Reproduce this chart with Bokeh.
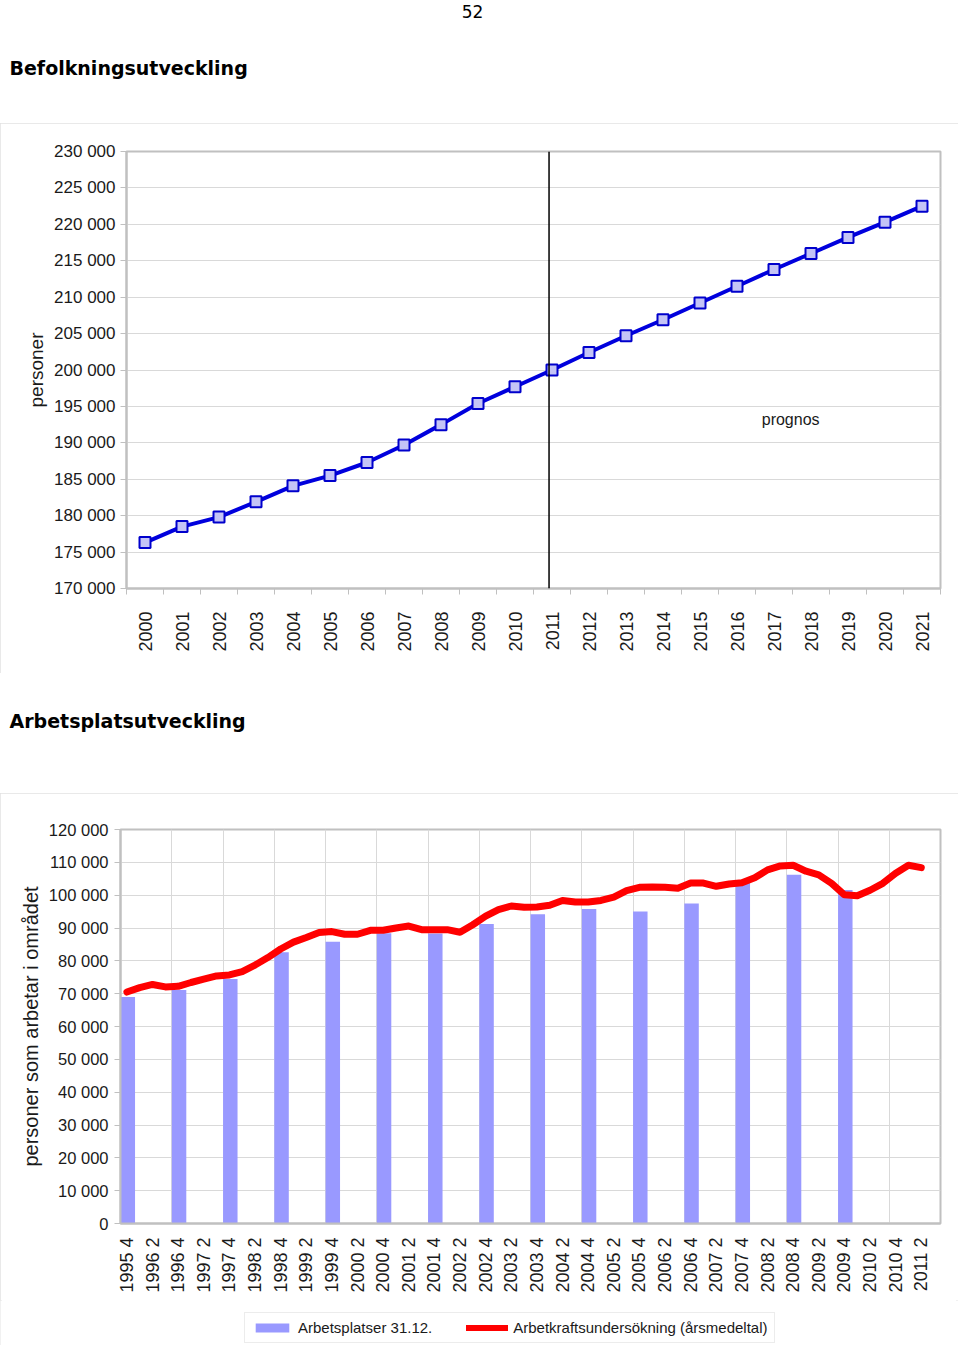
import math
from bokeh.plotting import figure
from bokeh.models import (FixedTicker, Span, Label, Legend, LegendItem, Range1d)
from bokeh.layouts import column
from bokeh.embed import file_html
from bokeh.resources import INLINE

# ---------------- data: Befolkningsutveckling ----------------
pop_years = ["2000", "2001", "2002", "2003", "2004", "2005", "2006", "2007",
             "2008", "2009", "2010", "2011", "2012", "2013", "2014", "2015",
             "2016", "2017", "2018", "2019", "2020", "2021"]
pop_values = [176300, 178500, 179800, 181900, 184100, 185500, 187300, 189700,
              192500, 195400, 197700, 200000, 202400, 204700, 206900, 209200,
              211500, 213800, 216000, 218200, 220300, 222500]
pop_ticks = [170000, 175000, 180000, 185000, 190000, 195000, 200000, 205000,
             210000, 215000, 220000, 225000, 230000]
forecast_year = "2011"

# ---------------- data: Arbetsplatsutveckling ----------------
quarters = ["1995 4",
            "1996 1", "1996 2", "1996 3", "1996 4",
            "1997 1", "1997 2", "1997 3", "1997 4",
            "1998 1", "1998 2", "1998 3", "1998 4",
            "1999 1", "1999 2", "1999 3", "1999 4",
            "2000 1", "2000 2", "2000 3", "2000 4",
            "2001 1", "2001 2", "2001 3", "2001 4",
            "2002 1", "2002 2", "2002 3", "2002 4",
            "2003 1", "2003 2", "2003 3", "2003 4",
            "2004 1", "2004 2", "2004 3", "2004 4",
            "2005 1", "2005 2", "2005 3", "2005 4",
            "2006 1", "2006 2", "2006 3", "2006 4",
            "2007 1", "2007 2", "2007 3", "2007 4",
            "2008 1", "2008 2", "2008 3", "2008 4",
            "2009 1", "2009 2", "2009 3", "2009 4",
            "2010 1", "2010 2", "2010 3", "2010 4",
            "2011 1", "2011 2", "2011 3"]
quarter_tick_labels = ["1995 4", "1996 2", "1996 4", "1997 2", "1997 4",
                       "1998 2", "1998 4", "1999 2", "1999 4", "2000 2",
                       "2000 4", "2001 2", "2001 4", "2002 2", "2002 4",
                       "2003 2", "2003 4", "2004 2", "2004 4", "2005 2",
                       "2005 4", "2006 2", "2006 4", "2007 2", "2007 4",
                       "2008 2", "2008 4", "2009 2", "2009 4", "2010 2",
                       "2010 4", "2011 2"]
bar_quarters = ["1995 4", "1996 4", "1997 4", "1998 4", "1999 4", "2000 4",
                "2001 4", "2002 4", "2003 4", "2004 4", "2005 4", "2006 4",
                "2007 4", "2008 4", "2009 4"]
bar_values = [69000, 71100, 74500, 82600, 85800, 88400, 88300, 91200, 94200,
              95800, 95000, 97500, 103900, 106200, 101600]
akw_values = [70500, 71850, 72800, 72050, 72250, 73400, 74400, 75400, 75700,
              76700, 78700, 81000, 83600, 85700, 87100, 88600, 88900, 88100,
              88100, 89300, 89300, 90000, 90600, 89500, 89500, 89500, 88700,
              91000, 93600, 95600, 96700, 96300, 96400, 96900, 98400, 97900,
              97900, 98400, 99400, 101400, 102400, 102500, 102400, 102100,
              103700, 103700, 102700, 103400, 103800, 105300, 107700, 108900,
              109100, 107300, 106200, 103600, 100100, 99800, 101500, 103600,
              106700, 109100, 108400]
job_ticks = [0, 10000, 20000, 30000, 40000, 50000, 60000, 70000, 80000,
             90000, 100000, 110000, 120000]
legend_labels = ["Arbetsplatser 31.12.", "Arbetkraftsundersökning (årsmedeltal)"]

FONT = "Liberation Sans"
HEAD = "DejaVu Sans"
TXT = "#1a1a1a"
AXIS_GRAY = "#c0c0c0"
GRID = "#d9d9d9"
BOX = {"outline": "2px solid #e2e2e2", "outline-offset": "-2px"}
BAR_COLOR = "#9999ff"
RED = "#ff0000"
W = 958


def fmt(v):
    return f"{v:,}".replace(",", " ")


def blank_fig(width, height, x0, x1, ytop, ybottom):
    """A figure whose frame is the whole canvas (page-pixel coordinates)."""
    f = figure(width=width, height=height, output_backend="svg",
               toolbar_location=None, x_axis_location=None,
               y_axis_location=None, x_range=Range1d(x0, x1),
               y_range=Range1d(ybottom, ytop), min_border=0,
               frame_align=False)
    f.min_border_left = f.min_border_right = 0
    f.min_border_top = f.min_border_bottom = 0
    f.outline_line_color = None
    f.grid.visible = False
    f.title.visible = False
    f.background_fill_color = "white"
    f.border_fill_color = "white"
    return f


def style_common(p):
    p.background_fill_color = "white"
    p.border_fill_color = "white"
    p.outline_line_color = AXIS_GRAY
    p.outline_line_width = 2
    p.title.visible = False
    for ax in p.axis:
        ax.axis_line_color = AXIS_GRAY
        ax.axis_line_width = 2
        ax.major_tick_line_color = AXIS_GRAY
        ax.minor_tick_line_color = AXIS_GRAY
        ax.major_label_text_font = FONT
        ax.major_label_text_color = TXT
        ax.axis_label_text_font = FONT
        ax.axis_label_text_font_style = "normal"
        ax.axis_label_text_color = TXT


# ================= header 1 (page y 0..123) =================
h1 = blank_fig(960, 123, 0, 960, 0, 123)
h1.add_layout(Label(x=472, y=11, text="52", text_align="center",
                    text_baseline="middle", text_font=HEAD,
                    text_font_size="17px", text_color="black"))
h1.add_layout(Label(x=9, y=67, text="Befolkningsutveckling", text_align="left",
                    text_baseline="middle", text_font=HEAD,
                    text_font_size="19px", text_font_style="bold",
                    text_color="black"))

# ================= chart A (page y 123..673) =================
n = len(pop_years)
pA = figure(width=W, height=550, output_backend="svg", toolbar_location=None,
            x_range=Range1d(0, n), y_range=Range1d(pop_ticks[0], pop_ticks[-1]),
            min_border_left=126, min_border_right=18, min_border_top=28,
            min_border_bottom=85, styles=BOX, frame_align=False)
style_common(pA)

xs = [i + 0.5 for i in range(n)]
pA.line(xs, pop_values, line_color="#0000dd", line_width=4)
pA.scatter(xs, pop_values, marker="square", size=11, fill_color="#c4c4f6",
           line_color="#0000cc", line_width=2)

xa = pA.xaxis[0]
xa.ticker = FixedTicker(ticks=xs, minor_ticks=list(range(n + 1)))
xa.major_label_overrides = {x: y for x, y in zip(xs, pop_years)}
xa.major_label_orientation = math.pi / 2
xa.major_tick_out = 0
xa.major_tick_in = 0
xa.minor_tick_out = 6
xa.minor_tick_in = 0
xa.major_label_standoff = 17
xa.major_label_text_font_size = "18px"
pA.xgrid.visible = False

ya = pA.yaxis[0]
ya.ticker = FixedTicker(ticks=pop_ticks, minor_ticks=[])
ya.major_label_overrides = {v: fmt(v) for v in pop_ticks}
ya.major_tick_out = 6
ya.major_tick_in = 0
ya.major_label_standoff = 5
ya.major_label_text_font_size = "17px"
ya.axis_label = "personer"
ya.axis_label_text_font_size = "19px"
ya.axis_label_standoff = 4
pA.ygrid.grid_line_color = GRID
pA.ygrid.grid_line_width = 1

pA.add_layout(Span(location=pop_years.index(forecast_year) + 0.42,
                   dimension="height", line_color="black", line_width=1.5))
pA.add_layout(Label(x=17.95, y=193200, text="prognos", text_align="center",
                    text_baseline="middle", text_font=FONT,
                    text_font_size="16px", text_color=TXT))

# ================= header 2 (page y 673..793) =================
h2 = blank_fig(960, 120, 0, 960, 673, 793)
h2.add_layout(Label(x=9, y=720, text="Arbetsplatsutveckling", text_align="left",
                    text_baseline="middle", text_font=HEAD,
                    text_font_size="19px", text_font_style="bold",
                    text_color="black"))

# ================= chart B (page y 793..1300) =================
m = len(quarters)
pB = figure(width=W, height=507, output_backend="svg", toolbar_location=None,
            x_range=Range1d(0, m), y_range=Range1d(job_ticks[0], job_ticks[-1]),
            min_border_left=120, min_border_right=18, min_border_top=36,
            min_border_bottom=77, frame_align=False)
style_common(pB)

bar_x = [quarters.index(q) + 0.57 for q in bar_quarters]
pB.vbar(x=bar_x, top=bar_values, bottom=0, width=1.13,
        fill_color=BAR_COLOR, line_color=None)
line_x = [i + 0.5 for i in range(len(akw_values))]
pB.line(line_x, akw_values, line_color=RED, line_width=7,
        line_join="round", line_cap="round")

tick_pos = [quarters.index(q) + 0.5 for q in quarter_tick_labels]
xb = pB.xaxis[0]
xb.ticker = FixedTicker(ticks=tick_pos, minor_ticks=[])
xb.major_label_overrides = {x: q for x, q in zip(tick_pos, quarter_tick_labels)}
xb.major_label_orientation = math.pi / 2
xb.major_tick_out = 0
xb.major_tick_in = 0
xb.major_label_standoff = 14
xb.major_label_text_font_size = "18px"
pB.xgrid.ticker = FixedTicker(ticks=list(range(0, m + 1, 4)))
pB.xgrid.grid_line_color = GRID

yb = pB.yaxis[0]
yb.ticker = FixedTicker(ticks=job_ticks, minor_ticks=[])
yb.major_label_overrides = {v: fmt(v) for v in job_ticks}
yb.major_tick_out = 6
yb.major_tick_in = 0
yb.major_label_standoff = 6
yb.major_label_text_font_size = "16.5px"
yb.axis_label = "personer som arbetar i området"
yb.axis_label_text_font_size = "20px"
yb.axis_label_standoff = 4
pB.ygrid.grid_line_color = GRID

# ================= legend strip (page y 1300..1345) =================
lg = blank_fig(W, 45, 0, W, 1300, 1345)
# legend-only renderers (hidden): same series and styles as in chart B
leg_bar = lg.vbar(x=bar_x, top=bar_values, bottom=0, width=1.13,
                  fill_color=BAR_COLOR, line_color=None, visible=False)
leg_line = lg.line(line_x, akw_values, line_color=RED, line_width=6,
                   line_cap="round", visible=False)
legend = Legend(items=[LegendItem(label=legend_labels[0], renderers=[leg_bar]),
                       LegendItem(label=legend_labels[1], renderers=[leg_line])],
                orientation="horizontal", location=(244, 2),
                label_text_font=FONT, label_text_font_size="15px",
                label_text_color=TXT, glyph_width=42, glyph_height=11,
                label_standoff=5, spacing=34, padding=6, margin=0,
                border_line_color=GRID, border_line_width=1.5,
                background_fill_color="white", background_fill_alpha=1,
                inactive_fill_alpha=0)
lg.add_layout(legend)

boxB = column(pB, lg, spacing=0, styles=BOX)
layout = column(h1, pA, h2, boxB, spacing=0)
open("out.html", "w").write(file_html(layout, INLINE))
